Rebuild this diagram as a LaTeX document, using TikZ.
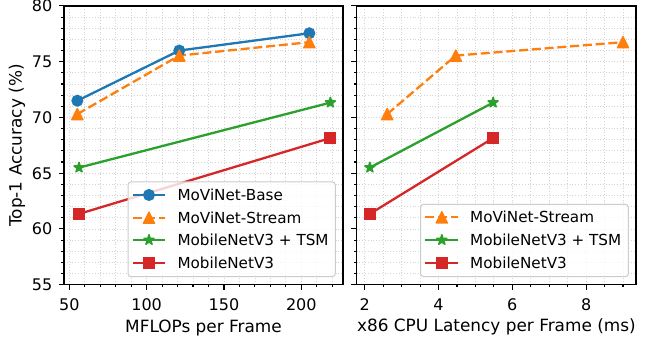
\documentclass[tikz,border=0pt]{standalone}
\usepackage{fontspec}
\setmainfont{DejaVu Sans}
\usetikzlibrary{shapes.geometric}
\definecolor{mblue}{HTML}{1F77B4}
\definecolor{morange}{HTML}{FF7F0E}
\definecolor{mgreen}{HTML}{2CA02C}
\definecolor{mred}{HTML}{D62728}
\definecolor{gridc}{HTML}{D4D4D4}
\definecolor{legc}{HTML}{CCCCCC}
\tikzset{
  gridline/.style={gridc, line width=0.8pt, dash pattern=on 1pt off 1.8pt},
  spine/.style={black, line width=1.2pt},
  tickmark/.style={black, line width=1.1pt},
  ticklab/.style={inner sep=0pt, font=\fontsize{16}{19}\selectfont},
  axlab/.style={inner sep=0pt, font=\fontsize{16.9}{20}\selectfont},
  leglab/.style={inner sep=0pt, anchor=west, font=\fontsize{15.2}{18}\selectfont},
  legbox/.style={draw=legc, line width=1pt, fill=white, fill opacity=0.8, rounded corners=3pt},
  series/.style={line width=2.3pt, line join=round},
  dashser/.style={dash pattern=on 9pt off 3.8pt},
  mcirc/.style={circle, minimum size=10.5pt, inner sep=0pt, line width=1.5pt},
  msq/.style={rectangle, minimum size=10.5pt, inner sep=0pt, line width=1.5pt},
  mstar/.style={star, star points=5, star point ratio=2.618, minimum size=10.5pt, inner sep=0pt, line width=1.5pt, line join=round},
  tri/.pic={\filldraw[morange, line width=1.2pt, line join=round] (0pt,5.7pt) -- (-5.7pt,-5.7pt) -- (5.7pt,-5.7pt) -- cycle;}
}
\begin{document}
\begin{tikzpicture}[x=1pt,y=1pt]
\useasboundingbox (0,0) rectangle (647,339);

% ---------------- left panel ----------------
\begin{scope}[x=1.5467pt, y=11.15pt, shift={(-8.035pt,-558.95pt)}]
  \foreach \gx in {50,60,...,220} \draw[gridline] (\gx,55) -- (\gx,80);
  \foreach \gy in {56,...,79} \draw[gridline] (46.57,\gy) -- (226.96,\gy);
  % data
  \coordinate (b1) at (55.2,71.5);
  \coordinate (b2) at (121.1,76.0);
  \coordinate (b3) at (205.2,77.55);
  \coordinate (s1) at (55.2,70.3);
  \coordinate (s2) at (121.1,75.55);
  \coordinate (s3) at (205.2,76.75);
  \coordinate (t1) at (56.3,65.5);
  \coordinate (t2) at (218.8,71.33);
  \coordinate (m1) at (56.3,61.35);
  \coordinate (m2) at (218.8,68.15);
  \draw[series, mblue] (b1) -- (b2) -- (b3);
  \draw[series, dashser, morange] (s1) -- (s2) -- (s3);
  \draw[series, mgreen] (t1) -- (t2);
  \draw[series, mred] (m1) -- (m2);
  \foreach \p in {b1,b2,b3} \node[mcirc, fill=mblue, draw=mblue] (mk\p) at (\p) {};
  \foreach \p in {s1,s2,s3} \pic at (\p) {tri};
  \foreach \p in {t1,t2} \node[mstar, fill=mgreen, draw=mgreen] (mk\p) at (\p) {};
  \foreach \p in {m1,m2} \node[msq, fill=mred, draw=mred] (mk\p) at (\p) {};
  % ticks
  \foreach \gy in {56,...,79} \draw[tickmark] (46.57,\gy) -- ++(-2.7pt,0pt);
  \foreach \gy in {55,60,...,80} {
    \draw[tickmark] (46.57,\gy) -- ++(-5.3pt,0pt);
    \node[ticklab, anchor=east] (yt\gy) at ([xshift=-11.5pt]46.57,\gy) {\gy};
  }
  \foreach \gx in {60,70,...,220} \draw[tickmark] (\gx,55) -- ++(0pt,-2.7pt);
  \foreach \gx in {50,100,150,200} {
    \draw[tickmark] (\gx,55) -- ++(0pt,-5.3pt);
    \node[ticklab, anchor=base] (xt\gx) at ([yshift=-26.3pt]\gx,55) {\gx};
  }
\end{scope}

% left legend
\draw[legbox] (128,62.3) rectangle (335.3,157);
\coordinate (la1) at (133,144);   \coordinate (la2) at (165,144);
\coordinate (lb1) at (133,121.3); \coordinate (lb2) at (165,121.3);
\coordinate (lc1) at (133,99);    \coordinate (lc2) at (165,99);
\coordinate (ld1) at (133,76.3);  \coordinate (ld2) at (165,76.3);
\draw[series, mblue] (la1) -- (la2);
\draw[series, dashser, morange] (lb1) -- (lb2);
\draw[series, mgreen] (lc1) -- (lc2);
\draw[series, mred] (ld1) -- (ld2);
\node[mcirc, fill=mblue, draw=mblue] (lam) at (149,144) {};
\pic at (149,121.3) {tri};
\node[mstar, fill=mgreen, draw=mgreen] (lcm) at (149,99) {};
\node[msq, fill=mred, draw=mred] (ldm) at (149,76.3) {};
\node[leglab] (lat) at (177.3,144) {MoViNet-Base};
\node[leglab] (lbt) at (177.3,121.3) {MoViNet-Stream};
\node[leglab] (lct) at (177.3,99) {MobileNetV3 + TSM};
\node[leglab] (ldt) at (177.3,76.3) {MobileNetV3};

\begin{scope}[x=1.5467pt, y=11.15pt, shift={(-8.035pt,-558.95pt)}]
  \draw[spine] (46.57,55) rectangle (226.96,80);
\end{scope}

% ---------------- right panel ----------------
\begin{scope}[x=36.9pt, y=11.15pt, shift={(290.9pt,-558.95pt)}]
  \foreach \gx in {2,2.5,...,9} \draw[gridline] (\gx,55) -- (\gx,80);
  \foreach \gy in {56,...,79} \draw[gridline] (1.783,\gy) -- (9.352,\gy);
  \coordinate (rs1) at (2.61,70.3);
  \coordinate (rs2) at (4.47,75.55);
  \coordinate (rs3) at (9.0,76.75);
  \coordinate (rt1) at (2.14,65.5);
  \coordinate (rt2) at (5.48,71.33);
  \coordinate (rm1) at (2.14,61.35);
  \coordinate (rm2) at (5.48,68.15);
  \draw[series, dashser, morange] (rs1) -- (rs2) -- (rs3);
  \draw[series, mgreen] (rt1) -- (rt2);
  \draw[series, mred] (rm1) -- (rm2);
  \foreach \p in {rs1,rs2,rs3} \pic at (\p) {tri};
  \foreach \p in {rt1,rt2} \node[mstar, fill=mgreen, draw=mgreen] (mk\p) at (\p) {};
  \foreach \p in {rm1,rm2} \node[msq, fill=mred, draw=mred] (mk\p) at (\p) {};
  \foreach \gy in {56,...,79} \draw[tickmark] (1.783,\gy) -- ++(-2.7pt,0pt);
  \foreach \gy in {55,60,...,80} \draw[tickmark] (1.783,\gy) -- ++(-5.3pt,0pt);
  \foreach \gx in {2.5,3,...,9} \draw[tickmark] (\gx,55) -- ++(0pt,-2.7pt);
  \foreach \gx in {2,4,6,8} {
    \draw[tickmark] (\gx,55) -- ++(0pt,-5.3pt);
    \node[ticklab, anchor=base] (rxt\gx) at ([yshift=-26.3pt]\gx,55) {\gx};
  }
\end{scope}

% right legend
\draw[legbox] (420.7,62.3) rectangle (628.3,134.7);
\coordinate (ra1) at (425.3,121.7); \coordinate (ra2) at (458.3,121.7);
\coordinate (rb1) at (425.3,99);    \coordinate (rb2) at (458.3,99);
\coordinate (rc1) at (425.3,76.3);  \coordinate (rc2) at (458.3,76.3);
\draw[series, dashser, morange] (ra1) -- (ra2);
\draw[series, mgreen] (rb1) -- (rb2);
\draw[series, mred] (rc1) -- (rc2);
\pic at (441.8,121.7) {tri};
\node[mstar, fill=mgreen, draw=mgreen] (rbm) at (441.8,99) {};
\node[msq, fill=mred, draw=mred] (rcm) at (441.8,76.3) {};
\node[leglab] (rat) at (470,121.7) {MoViNet-Stream};
\node[leglab] (rbt) at (470,99) {MobileNetV3 + TSM};
\node[leglab] (rct) at (470,76.3) {MobileNetV3};

\begin{scope}[x=36.9pt, y=11.15pt, shift={(290.9pt,-558.95pt)}]
  \draw[spine] (1.783,55) rectangle (9.352,80);
\end{scope}

% axis labels
\node[axlab, anchor=base] (xl1) at (203.5,6.7) {MFLOPs per Frame};
\node[axlab, anchor=base] (xl2) at (496.4,7.2) {x86 CPU Latency per Frame (ms)};
\node[axlab, anchor=base, rotate=90] (yl) at (21.7,193.6) {Top-1 Accuracy (\%)};
\end{tikzpicture}
\end{document}
